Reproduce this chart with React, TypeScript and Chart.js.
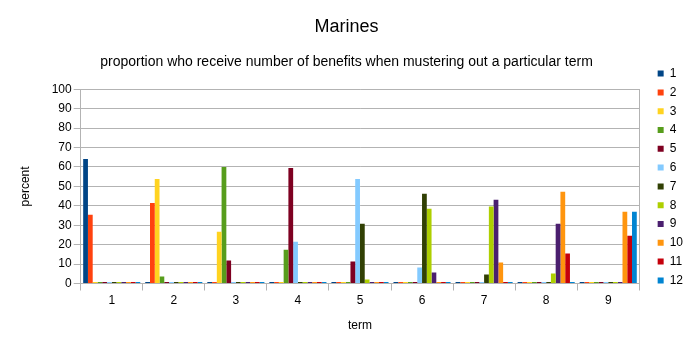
import { useEffect, useRef } from "react";
import { Chart, registerables } from "chart.js";
Chart.register(...registerables);

const terms = ["1", "2", "3", "4", "5", "6", "7", "8", "9"];
const seriesNames = ["1", "2", "3", "4", "5", "6", "7", "8", "9", "10", "11", "12"];

const s1 = [64.1, 0, 0, 0, 0, 0, 0, 0, 0];
const s2 = [35.4, 41.5, 0, 0, 0, 0, 0, 0, 0];
const s3 = [0, 53.8, 26.7, 0, 0, 0, 0, 0, 0];
const s4 = [0, 3.6, 60.0, 17.4, 0, 0, 0, 0, 0];
const s5 = [0, 0, 11.8, 59.5, 11.3, 0, 0, 0, 0];
const s6 = [0, 0, 0, 21.5, 53.8, 8.2, 0, 0, 0];
const s7 = [0, 0, 0, 0, 30.8, 46.2, 4.6, 0, 0];
const s8 = [0, 0, 0, 0, 2.1, 38.5, 39.6, 5.1, 0];
const s9 = [0, 0, 0, 0, 0, 5.6, 43.1, 30.8, 0];
const s10 = [0, 0, 0, 0, 0, 0, 10.8, 47.2, 36.9];
const s11 = [0, 0, 0, 0, 0, 0, 0, 15.4, 24.6];
const s12 = [0, 0, 0, 0, 0, 0, 0, 0, 36.9];

const series = [s1, s2, s3, s4, s5, s6, s7, s8, s9, s10, s11, s12];
const colors = [
  "#004586", "#ff420e", "#ffd320", "#579d1c", "#7e0021", "#83caff",
  "#314004", "#aecf00", "#4b1f6f", "#ff950e", "#c5000b", "#0084d1",
];

const FAMILY = "'Liberation Sans', Arial, sans-serif";
const GRAY = "#b3b3b3";

export default function App() {
  const ref = useRef<HTMLCanvasElement>(null);
  useEffect(() => {
    document.body.style.margin = "0";
    const chart = new Chart(ref.current!, {
      type: "bar",
      data: {
        labels: terms,
        datasets: series.map((d, i) => ({
          label: seriesNames[i],
          data: d,
          backgroundColor: colors[i],
          borderWidth: 0,
          minBarLength: 1.5,
          categoryPercentage: 0.92,
          barPercentage: 1,
        })),
      },
      options: {
        animation: false,
        responsive: false,
        maintainAspectRatio: false,
        layout: { padding: { left: 0, right: 2, top: 0, bottom: 0 } },
        plugins: {
          title: {
            display: true,
            text: "Marines",
            color: "#000",
            font: { family: FAMILY, size: 18, weight: "normal" },
            padding: { top: 16, bottom: 0 },
          },
          subtitle: {
            display: true,
            text: "proportion who receive number of benefits when mustering out a particular term",
            color: "#000",
            font: { family: FAMILY, size: 14, weight: "normal" },
            padding: { top: 15.9, bottom: 19 },
          },
          legend: {
            position: "right",
            labels: {
              boxWidth: 6,
              boxHeight: 6,
              padding: 6.8,
              color: "#000",
              font: { family: FAMILY, size: 12 },
            },
          },
          tooltip: { enabled: false },
        },
        scales: {
          x: {
            grid: { offset: true, drawOnChartArea: false, tickLength: 7, color: GRAY },
            border: { color: GRAY },
            ticks: { font: { family: FAMILY, size: 12 }, color: "#000", padding: 3 },
            title: {
              display: true,
              text: "term",
              color: "#000",
              font: { family: FAMILY, size: 12 },
              padding: { top: 8, bottom: 20.7 },
            },
          },
          y: {
            min: 0,
            max: 100,
            ticks: { stepSize: 10, font: { family: FAMILY, size: 12 }, color: "#000", padding: 2 },
            grid: { color: GRAY, tickLength: 7 },
            border: { color: GRAY },
            title: {
              display: true,
              text: "percent",
              color: "#000",
              font: { family: FAMILY, size: 12 },
              padding: { top: 18, bottom: 0 },
            },
            afterFit: (s: any) => {
              s.width = 80.7;
            },
          },
          y2: {
            type: "linear",
            position: "right",
            display: true,
            min: 0,
            max: 100,
            grid: { drawOnChartArea: false, drawTicks: false },
            ticks: { display: false },
            border: { color: GRAY },
            afterFit: (s: any) => {
              s.width = 11.6;
            },
          },
        },
      } as any,
    });
    return () => chart.destroy();
  }, []);
  return (
    <div style={{ width: 695, height: 354 }}>
      <canvas ref={ref} width={695} height={354} style={{ display: "block" }} />
    </div>
  );
}
